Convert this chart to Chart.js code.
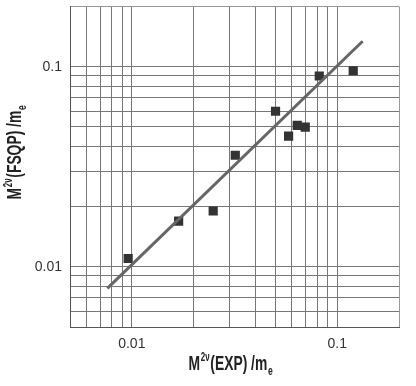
<!DOCTYPE html>
<html>
<head>
<meta charset="utf-8">
<script src="https://cdn.jsdelivr.net/npm/chart.js@4.4.1/dist/chart.umd.min.js"></script>
<style>
  html, body { margin: 0; padding: 0; background: #fff; }
  #wrap { width: 416px; height: 386px; }
</style>
</head>
<body>
<div id="wrap"><canvas id="chart" width="416" height="386"></canvas></div>
<script>
// measured values, M2v(EXP)/me vs M2v(FSQP)/me
const expValues = [0.0096, 0.0169, 0.0249, 0.0319, 0.0501, 0.0580, 0.0639, 0.0699, 0.0818, 0.1197];
const fsqpValues = [0.0110, 0.0169, 0.0190, 0.0361, 0.0599, 0.0450, 0.0509, 0.0499, 0.0899, 0.0955];

// fitted line end points
const fitX = [0.0076, 0.133];
const fitY = [0.0078, 0.134];

// grid positions and labelled ticks
const gridValues = [0.005, 0.006, 0.007, 0.008, 0.009, 0.01, 0.02, 0.03, 0.04, 0.05, 0.06, 0.07, 0.08, 0.09, 0.1, 0.2];
const tickLabels = ['0.01', '0.1'];

const xTitle = [['M', 'main'], ['2ν', 'sup'], ['(EXP) /m', 'main'], ['e', 'sub']];
const yTitle = [['M', 'main'], ['2ν', 'sup'], ['(FSQP) /m', 'main'], ['e', 'sub']];

const ctx = document.getElementById('chart').getContext('2d');

function labelFor(value) {
    for (const l of tickLabels) {
        if (Math.abs(value - parseFloat(l)) < 1e-9) return l;
    }
    return '';
}

function setTicks(scale) {
    scale.ticks = gridValues.map(v => ({ value: v }));
}

function gridColor(c) {
    const v = c.tick ? c.tick.value : 0;
    if (v === 0.2) return '#999';
    return '#777';
}

// draws an axis title with super/subscripts, horizontally condensed
function drawTitle(c, parts, cx, baseY) {
    const squeeze = 0.66;
    const fonts = {
        main: { font: 'bold 21px "Liberation Sans", Arial, sans-serif', dy: 0 },
        sup: { font: 'bold 12px "Liberation Sans", Arial, sans-serif', dy: -9 },
        sub: { font: 'bold 13px "Liberation Sans", Arial, sans-serif', dy: 5 }
    };
    let total = 0;
    parts.forEach(p => {
        c.font = fonts[p[1]].font;
        total += c.measureText(p[0]).width + 1;
    });
    c.save();
    c.translate(cx - total * squeeze / 2, baseY);
    c.scale(squeeze, 1);
    c.fillStyle = '#222';
    c.textBaseline = 'alphabetic';
    c.textAlign = 'left';
    let x = 0;
    parts.forEach(p => {
        c.font = fonts[p[1]].font;
        c.fillText(p[0], x, fonts[p[1]].dy);
        x += c.measureText(p[0]).width + 1;
    });
    c.restore();
}

const titlePlugin = {
    id: 'titles',
    afterDraw(chart) {
        const c = chart.ctx;
        drawTitle(c, xTitle, 231, 370);
        c.save();
        c.translate(21, 152);
        c.rotate(-Math.PI / 2);
        drawTitle(c, yTitle, 0, 0);
        c.restore();
    }
};

new Chart(ctx, {
    type: 'scatter',
    data: {
        datasets: [{
            label: 'fit',
            type: 'line',
            data: fitX.map((x, i) => ({ x: x, y: fitY[i] })),
            borderColor: '#666',
            borderWidth: 3,
            pointRadius: 0,
            fill: false
        }, {
            label: 'data',
            data: expValues.map((x, i) => ({ x: x, y: fsqpValues[i] })),
            pointStyle: 'rect',
            pointRadius: 6.5,
            backgroundColor: '#333',
            borderColor: '#333',
            borderWidth: 0
        }]
    },
    options: {
        responsive: false,
        animation: false,
        layout: { padding: { left: 0, right: 17, top: 5, bottom: 0 } },
        plugins: {
            legend: { display: false },
            tooltip: { enabled: false }
        },
        scales: {
            x: {
                type: 'logarithmic',
                min: 0.005,
                max: 0.2,
                afterBuildTicks: setTicks,
                afterFit: s => { s.height = 59; s.paddingLeft = 0; s.paddingRight = 0; },
                border: { display: true, color: '#555', width: 1 },
                grid: { color: gridColor, lineWidth: 1, drawTicks: false },
                ticks: {
                    autoSkip: false,
                    maxRotation: 0,
                    padding: 9,
                    color: '#333',
                    font: { family: '"Liberation Sans", Arial, sans-serif', size: 14 },
                    callback: v => labelFor(v)
                }
            },
            y: {
                type: 'logarithmic',
                min: 0.005,
                max: 0.2,
                afterBuildTicks: setTicks,
                afterFit: s => { s.width = 70; s.paddingTop = 0; s.paddingBottom = 0; },
                border: { display: true, color: '#555', width: 1 },
                grid: { color: gridColor, lineWidth: 1, drawTicks: false },
                ticks: {
                    autoSkip: false,
                    padding: 8,
                    color: '#333',
                    font: { family: '"Liberation Sans", Arial, sans-serif', size: 14 },
                    callback: v => labelFor(v)
                }
            }
        }
    },
    plugins: [titlePlugin]
});
</script>
</body>
</html>
